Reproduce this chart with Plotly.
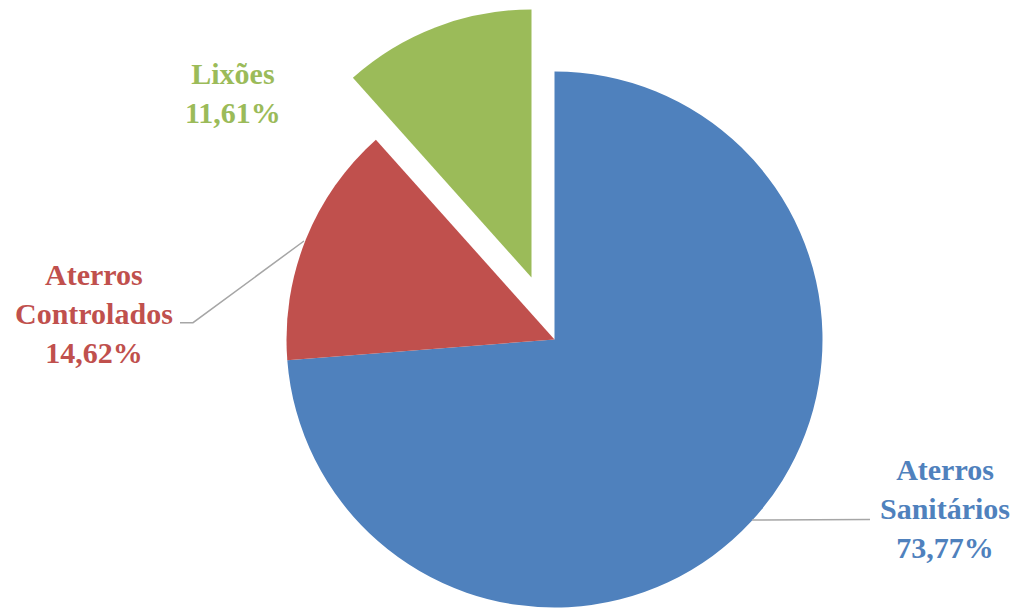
import plotly.graph_objects as go

categories = ["Aterros Sanitários", "Aterros Controlados", "Lixões"]
values = [73.77, 14.62, 11.61]
colors = ["#4F81BD", "#C0504D", "#9BBB59"]
label_lines = [["Aterros", "Sanitários", "73,77%"],
               ["Aterros", "Controlados", "14,62%"],
               ["Lixões", "11,61%"]]

W, H = 1016, 608

def px(x):
    return x / W

def py(y):
    return 1 - y / H

# main pie (green slice transparent), centre (554.5, 339.5), r=268
cx, cy, r = 554.5, 339.5, 268
main_colors = [colors[0], colors[1], "rgba(0,0,0,0)"]
fig = go.Figure()
fig.add_trace(go.Pie(
    labels=categories, values=values, sort=False, direction="clockwise",
    rotation=0, textinfo="none", hoverinfo="label+percent",
    marker=dict(colors=main_colors, line=dict(width=0)),
    domain=dict(x=[px(cx - r), px(cx + r)], y=[py(cy + r), py(cy - r)]),
    showlegend=False,
))
# exploded slice drawn in shifted domain
dx, dy = -23, -62
exp_colors = ["rgba(0,0,0,0)", "rgba(0,0,0,0)", colors[2]]
fig.add_trace(go.Pie(
    labels=categories, values=values, sort=False, direction="clockwise",
    rotation=0, textinfo="none", hoverinfo="label+percent",
    marker=dict(colors=exp_colors, line=dict(width=0)),
    domain=dict(x=[px(cx + dx - r), px(cx + dx + r)], y=[py(cy + dy + r), py(cy + dy - r)]),
    showlegend=False,
))

label_pos = [(945, 508), (94, 313), (233, 93)]
for lines, col, (lx, ly) in zip(label_lines, colors, label_pos):
    fig.add_annotation(
        x=px(lx), y=py(ly), xref="paper", yref="paper",
        text="<br>".join(lines), showarrow=False, align="center",
        xanchor="center", yanchor="middle",
        font=dict(family="Liberation Serif", size=30, color=col, weight="bold"),
    )

line_col = "#A6A6A6"
# leader lines
fig.add_shape(type="line", xref="paper", yref="paper",
              x0=px(752), y0=py(520), x1=px(870), y1=py(519.5),
              line=dict(color=line_col, width=1.5))
fig.add_shape(type="path", xref="paper", yref="paper",
              path=f"M {px(304)},{py(241)} L {px(193)},{py(322.7)} L {px(180)},{py(322.7)}",
              line=dict(color=line_col, width=1.5))

fig.update_layout(
    width=W, height=H, margin=dict(l=0, r=0, t=0, b=0),
    paper_bgcolor="white", plot_bgcolor="white",
)
fig.write_html("out.html")
